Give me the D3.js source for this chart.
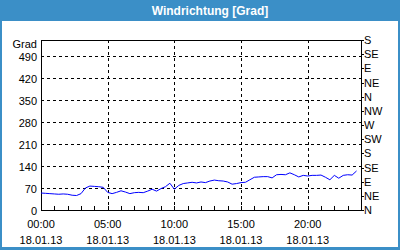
<!DOCTYPE html>
<html>
<head>
<meta charset="utf-8">
<script src="https://cdn.jsdelivr.net/npm/d3@7"></script>
<style>
  body { margin: 0; background: #fff; }
  svg text { font-family: Tahoma, "Liberation Sans", Arial, sans-serif; font-size: 11px; fill: #000; }
</style>
</head>
<body>
<svg id="chart" width="400" height="250"></svg>
<script>
const width = 400;
const height = 250;

// hours since 00:00 on 18.01.13, every 20 minutes
const hours = d3.range(0, 71).map(i => i / 3);
const windDir = [
  54, 53, 52, 51, 50, 51, 50, 47, 46, 52,
  70, 76, 75, 74, 72, 56, 52, 56, 61, 57,
  52, 55, 56, 55, 60, 66, 60, 68, 74, 85,
  66, 78, 84, 86, 88, 86, 89, 87, 92, 95,
  93, 92, 89, 82, 84, 87, 88, 96, 104, 105,
  106, 106, 102, 112, 113, 112, 118, 112, 105, 110,
  108, 110, 110, 111, 104, 96, 110, 101, 110, 112,
  111
];
windDir.push(124);
hours.push(71 / 3);

const leftTicks = [0, 70, 140, 210, 280, 350, 420, 490];
const rightTicks = [0, 45, 90, 135, 180, 225, 270, 315, 360, 405, 450, 495, 540];
const rightLabels = ["N", "NE", "E", "SE", "S", "SW", "W", "NW", "N", "NE", "E", "SE", "S"];
const majorHours = [0, 5, 10, 15, 20];
const timeLabels = ["00:00", "05:00", "10:00", "15:00", "20:00"];
const dateLabel = "18.01.13";

const margin = { top: 40, right: 39, bottom: 40, left: 41 };
const blue = "#3b8fc7";

const svg = d3.select("#chart");

// frame and title bar
svg.append("rect").attr("x", 0).attr("y", 0).attr("width", width).attr("height", height).attr("fill", blue);
svg.append("rect").attr("x", 2).attr("y", 21).attr("width", width - 4).attr("height", height - 24).attr("fill", "#fff");
svg.append("text")
    .attr("x", 210).attr("y", 15)
    .attr("text-anchor", "middle")
    .style("font-weight", "bold").style("font-size", "12px").style("fill", "#fff")
    .text("Windrichtung [Grad]");

const x = d3.scaleLinear().domain([0, 24]).range([margin.left, width - margin.right]);
const y = d3.scaleLinear().domain([0, 540]).range([height - margin.bottom, margin.top]);

const g = svg.append("g").attr("shape-rendering", "crispEdges");

// dashed grid
g.selectAll("line.hgrid")
    .data(leftTicks.filter(d => d > 0))
    .enter().append("line")
    .attr("class", "hgrid")
    .attr("x1", x(0)).attr("x2", x(24))
    .attr("y1", d => Math.round(y(d)) + 0.5).attr("y2", d => Math.round(y(d)) + 0.5)
    .attr("stroke", "#000").attr("stroke-dasharray", "3,3");

g.selectAll("line.vgrid")
    .data(majorHours.filter(d => d > 0))
    .enter().append("line")
    .attr("class", "vgrid")
    .attr("x1", d => Math.round(x(d)) + 0.5).attr("x2", d => Math.round(x(d)) + 0.5)
    .attr("y1", y(540)).attr("y2", y(0) + 3)
    .attr("stroke", "#000").attr("stroke-dasharray", "3,3");

// plot frame
g.append("rect")
    .attr("x", x(0) + 0.5).attr("y", y(540) + 0.5)
    .attr("width", x(24) - x(0)).attr("height", y(0) - y(540))
    .attr("fill", "none").attr("stroke", "#000");

// hourly ticks on x axis (pointing in)
g.selectAll("line.xtick")
    .data(d3.range(0, 25))
    .enter().append("line")
    .attr("x1", d => Math.round(x(d)) + 0.5).attr("x2", d => Math.round(x(d)) + 0.5)
    .attr("y1", y(0)).attr("y2", y(0) - 4)
    .attr("stroke", "#000");

// right axis ticks
g.selectAll("line.rtick")
    .data(rightTicks)
    .enter().append("line")
    .attr("x1", x(24)).attr("x2", x(24) + 3)
    .attr("y1", d => Math.round(y(d)) + 0.5).attr("y2", d => Math.round(y(d)) + 0.5)
    .attr("stroke", "#000");

// left labels
svg.selectAll("text.ylab")
    .data(leftTicks)
    .enter().append("text")
    .attr("x", x(0) - 4).attr("y", d => y(d) + 5)
    .attr("text-anchor", "end")
    .text(d => d);

svg.append("text")
    .attr("x", x(0) - 4).attr("y", 48)
    .attr("text-anchor", "end")
    .text("Grad");

// right labels
svg.selectAll("text.rlab")
    .data(rightTicks)
    .enter().append("text")
    .attr("x", x(24) + 3).attr("y", d => y(d) + 4)
    .text((d, i) => rightLabels[i]);

// x labels
const xl = svg.selectAll("g.xlab")
    .data(majorHours)
    .enter().append("g")
    .attr("transform", d => `translate(${x(d)},0)`);
xl.append("text").attr("y", 228).attr("text-anchor", "middle").text((d, i) => timeLabels[i]);
xl.append("text").attr("y", 244).attr("text-anchor", "middle").text(dateLabel);

// data line
const line = d3.line()
    .x((d, i) => x(hours[i]))
    .y(d => y(d));

svg.append("path")
    .datum(windDir)
    .attr("d", line)
    .attr("fill", "none")
    .attr("stroke", "#0000ff")
    .attr("stroke-width", 1);
</script>
</body>
</html>
